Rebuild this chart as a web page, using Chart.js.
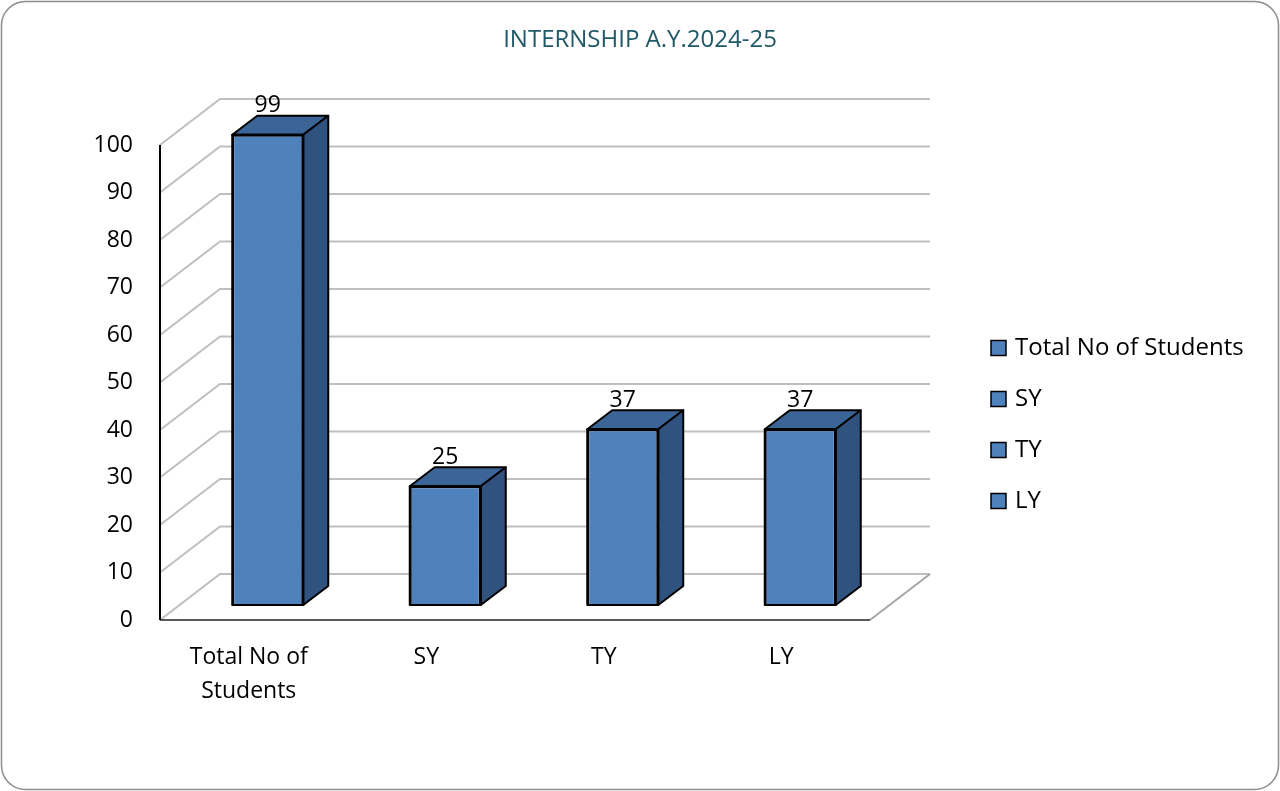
<!DOCTYPE html>
<html>
<head>
<meta charset="utf-8">
<title>INTERNSHIP A.Y.2024-25</title>
<script src="https://cdn.jsdelivr.net/npm/chart.js@4/dist/chart.umd.min.js"></script>
<style>
  html, body { margin: 0; padding: 0; background: #fff; }
  #wrap { width: 1280px; height: 791px; position: relative; }
</style>
</head>
<body>
<div id="wrap"><canvas id="chart-internship"></canvas></div>
<script>
// data
const categories = ["Total No of Students", "SY", "TY", "LY"];
const students = [99, 25, 37, 37];
const tickLabels = [["Total No of", "Students"], "SY", "TY", "LY"];
const yTicks = { min: 0, max: 100, step: 10 };

const BLUE = "#4F81BD";
const TOP = "#3C6597";
const SIDE = "#30527E";

// 3D look: back wall offset, bar offset from the front plane, bar depth
const wall = { dx: 60, dy: -46 };
const shift = { dx: 19, dy: -15 };
const depth = { dx: 25, dy: -19 };

Chart.defaults.font.family = "'Open Sans', sans-serif";
Chart.defaults.font.size = 23;
Chart.defaults.color = "#000";

const excel3d = {
  id: "excel3d",
  beforeDraw(chart) {
    const ctx = chart.ctx;
    ctx.save();
    ctx.fillStyle = "#fff";
    ctx.fillRect(0, 0, chart.width, chart.height);
    ctx.beginPath();
    ctx.roundRect(1.5, 1.5, chart.width - 3, chart.height - 3, 24);
    ctx.strokeStyle = "#8c8c8c";
    ctx.lineWidth = 1.5;
    ctx.stroke();
    ctx.restore();
  },
  beforeDatasetsDraw(chart) {
    const ctx = chart.ctx;
    const a = chart.chartArea;
    const ys = chart.scales.y;
    ctx.save();
    ctx.strokeStyle = "#bfbfbf";
    ctx.lineWidth = 2;
    ys.ticks.forEach((t) => {
      const py = ys.getPixelForValue(t.value);
      ctx.beginPath();
      ctx.moveTo(a.left, py);
      ctx.lineTo(a.left + wall.dx, py + wall.dy);
      ctx.lineTo(a.right + wall.dx, py + wall.dy);
      ctx.stroke();
    });
    // right edge of the floor
    ctx.beginPath();
    ctx.moveTo(a.right, a.bottom);
    ctx.lineTo(a.right + wall.dx, a.bottom + wall.dy);
    ctx.strokeStyle = "#a6a6a6";
    ctx.stroke();
    // front floor line
    ctx.beginPath();
    ctx.moveTo(a.left, a.bottom);
    ctx.lineTo(a.right, a.bottom);
    ctx.strokeStyle = "#595959";
    ctx.stroke();
    // front value axis
    ctx.beginPath();
    ctx.moveTo(a.left, a.top);
    ctx.lineTo(a.left, a.bottom);
    ctx.strokeStyle = "#000";
    ctx.stroke();
    ctx.restore();
  },
  beforeDatasetDraw(chart) {
    chart.ctx.save();
    chart.ctx.translate(shift.dx, shift.dy);
  },
  afterDatasetDraw(chart, args) {
    const ctx = chart.ctx;
    const values = chart.data.datasets[args.index].data;
    args.meta.data.forEach((bar, i) => {
      const p = bar.getProps(["x", "y", "base", "width"], true);
      const x0 = p.x - p.width / 2;
      const x1 = p.x + p.width / 2;
      ctx.lineWidth = 2;
      ctx.lineJoin = "round";
      ctx.strokeStyle = "#000";
      // top face
      ctx.beginPath();
      ctx.moveTo(x0, p.y);
      ctx.lineTo(x0 + depth.dx, p.y + depth.dy);
      ctx.lineTo(x1 + depth.dx, p.y + depth.dy);
      ctx.lineTo(x1, p.y);
      ctx.closePath();
      ctx.fillStyle = TOP;
      ctx.fill();
      ctx.stroke();
      // side face
      ctx.beginPath();
      ctx.moveTo(x1, p.y);
      ctx.lineTo(x1 + depth.dx, p.y + depth.dy);
      ctx.lineTo(x1 + depth.dx, p.base + depth.dy);
      ctx.lineTo(x1, p.base);
      ctx.closePath();
      ctx.fillStyle = SIDE;
      ctx.fill();
      ctx.stroke();
      // front outline
      ctx.strokeRect(x0, p.y, p.width, p.base - p.y);
      // value label
      ctx.fillStyle = "#000";
      ctx.font = "23px 'Open Sans', sans-serif";
      ctx.textAlign = "center";
      ctx.textBaseline = "middle";
      ctx.fillText(String(values[i]), p.x, p.y - 29);
    });
    ctx.restore();
  },
  afterDraw(chart) {
    // legend: one entry per category, as Excel does with varied point colours
    const ctx = chart.ctx;
    ctx.save();
    ctx.font = "24px 'Open Sans', sans-serif";
    ctx.textAlign = "left";
    ctx.textBaseline = "middle";
    categories.forEach((name, i) => {
      const cy = 348 + i * 51;
      ctx.fillStyle = BLUE;
      ctx.fillRect(991, cy - 7.5, 15, 15);
      ctx.strokeStyle = "#000";
      ctx.lineWidth = 1.5;
      ctx.strokeRect(991, cy - 7.5, 15, 15);
      ctx.fillStyle = "#000";
      ctx.fillText(name, 1015, cy);
    });
    ctx.restore();
  },
};

const ctx = document.getElementById("chart-internship");

new Chart(ctx, {
  type: "bar",
  data: {
    labels: categories,
    datasets: [
      {
        label: "Internship",
        data: students,
        backgroundColor: BLUE,
        borderColor: "#000",
        borderWidth: 2,
        barPercentage: 0.4,
        categoryPercentage: 1,
        clip: false,
      },
    ],
  },
  options: {
    responsive: true,
    maintainAspectRatio: false,
    animation: false,
    layout: { padding: { top: 20, left: 0, right: 0, bottom: 0 } },
    scales: {
      x: {
        grid: { display: false, drawTicks: false },
        border: { display: false },
        ticks: {
          padding: 20,
          maxRotation: 0,
          autoSkip: false,
          font: { size: 23, lineHeight: 1.48 },
          callback: (v, i) => tickLabels[i],
        },
        afterFit: (scale) => { scale.height = 171; },
      },
      y: {
        min: yTicks.min,
        max: yTicks.max,
        grid: { display: false, drawTicks: false },
        border: { display: false },
        ticks: { stepSize: yTicks.step, padding: 27, font: { size: 23 } },
        afterFit: (scale) => { scale.width = 160; },
      },
      // empty right-hand box that leaves room for the 3D walls and the legend
      gap: {
        type: "linear",
        position: "right",
        grid: { display: false, drawTicks: false },
        border: { display: false },
        ticks: { display: false },
        afterFit: (scale) => { scale.width = 410; },
      },
    },
    plugins: {
      legend: { display: false },
      tooltip: { enabled: false },
      title: {
        display: true,
        text: "INTERNSHIP A.Y.2024-25",
        color: "#215968",
        font: { size: 24, weight: "normal", lineHeight: 1.2 },
        padding: { top: 6, bottom: 90.2 },
      },
    },
  },
  plugins: [excel3d],
});
</script>
</body>
</html>
